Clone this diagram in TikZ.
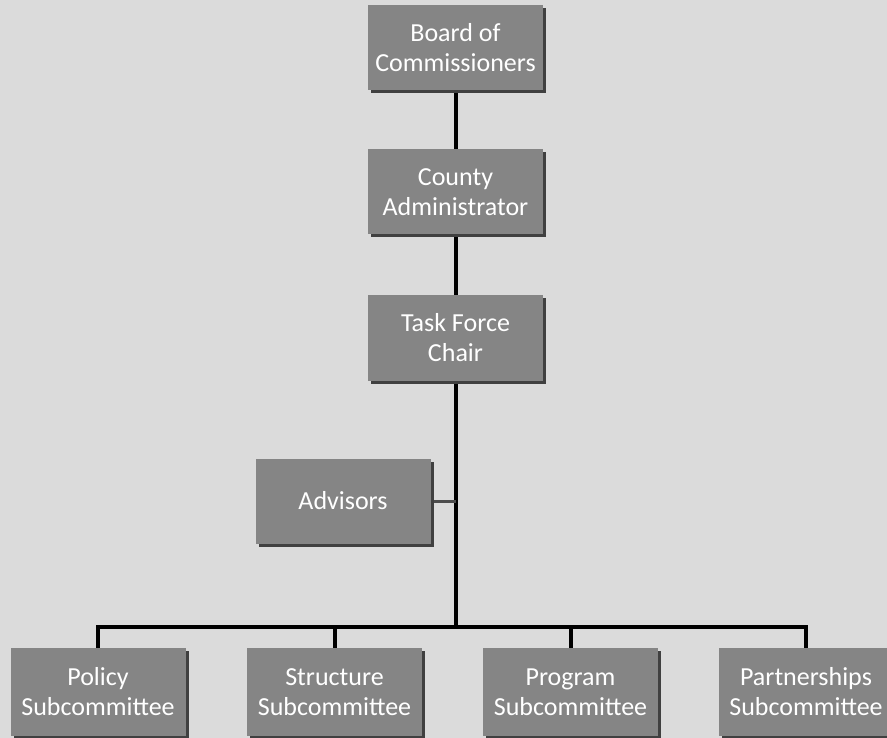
\documentclass[tikz,border=0pt]{standalone}
\usepackage{fontspec}
\setmainfont{Carlito}
\usetikzlibrary{shadows}
\pgfdeclarelayer{background}
\pgfdeclarelayer{nodelayer}
\pgfdeclarelayer{edgelayer}
\pgfsetlayers{background,edgelayer,nodelayer,main}
\definecolor{paper}{gray}{0.86}
\definecolor{boxgray}{gray}{0.52}
\tikzset{unit/.style={inner sep=0pt, fill=boxgray, text=white, align=center,
minimum width=175pt, minimum height=85pt, font=\fontsize{26}{30}\selectfont,
drop shadow={shadow xshift=3pt, shadow yshift=-3pt, fill=black!75, opacity=1}}}
\tikzset{tall/.style={minimum height=88pt}}
\tikzset{link/.style={line width=4pt, draw=black}}
\tikzset{side/.style={line width=3pt, draw=black!70}}
\tikzstyle{none}=[inner sep=0pt, minimum size=0pt]

\begin{document}
\begin{tikzpicture}[x=1pt, y=-1pt]
        \begin{pgfonlayer}{background}
            \clip (0, 0) rectangle (887, 738);
            \fill [paper] (0, 0) rectangle (887, 738);
        \end{pgfonlayer}
        \useasboundingbox (0, 0) rectangle (887, 738);
        \clip (0, 0) rectangle (887, 738);
        \begin{pgfonlayer}{nodelayer}
            \node [style=unit] (0) at (455.5, 48) {Board of\\Commissioners};
            \node [style=unit] (1) at (455.5, 192) {County\\Administrator};
            \node [style=unit] (2) at (455.5, 338) {Task Force\\Chair};
            \node [style=unit] (3) at (343, 501) {Advisors};
            \node [style=unit, tall] (4) at (98, 692) {Policy\\Subcommittee};
            \node [style=unit, tall] (5) at (334.5, 692) {Structure\\Subcommittee};
            \node [style=unit, tall] (6) at (570.5, 692) {Program\\Subcommittee};
            \node [style=unit, tall] (7) at (806, 692) {Partnerships\\Subcommittee};
            \node [style=none] (8) at (455.5, 501) {};
            \node [style=none] (9) at (455.5, 627) {};
            \node [style=none] (10) at (98, 627) {};
            \node [style=none] (11) at (334.5, 627) {};
            \node [style=none] (12) at (570.5, 627) {};
            \node [style=none] (13) at (806, 627) {};
        \end{pgfonlayer}
        \begin{pgfonlayer}{edgelayer}
            \draw [style=link] (0) to (1);
            \draw [style=link] (1) to (2);
            \draw [style=link] (2) to (9.center);
            \draw [style=side] (3) to (8.center);
            \draw [style=link, line cap=rect] (10.center) to (13.center);
            \draw [style=link] (10.center) to (4);
            \draw [style=link] (11.center) to (5);
            \draw [style=link] (12.center) to (6);
            \draw [style=link] (13.center) to (7);
        \end{pgfonlayer}
    \end{tikzpicture}
\end{document}
